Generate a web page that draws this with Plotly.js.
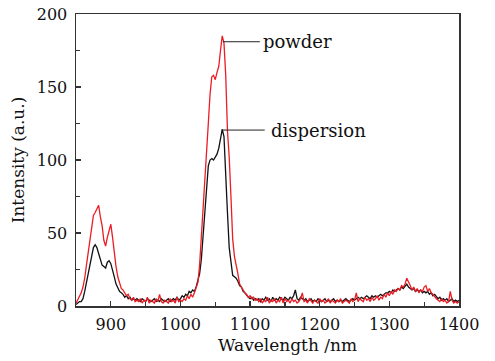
<!DOCTYPE html>
<html>
<head>
<meta charset="utf-8">
<script src="https://cdn.plot.ly/plotly-3.0.1.min.js"></script>
<style>html,body{margin:0;padding:0;background:#fff;}#chart{width:495px;height:361px;}</style>
</head>
<body>
<div id="chart"></div>
<script>
// Wavelength grid (nm), 2.5 nm steps from 850 to 1400
const wavelength = [
850,852.5,855,857.5,860,862.5,865,867.5,870,872.5,875,877.5,880,882.5,885,887.5,890,892.5,895,897.5,
900,902.5,905,907.5,910,912.5,915,917.5,920,922.5,925,927.5,930,932.5,935,937.5,940,942.5,945,947.5,
950,952.5,955,957.5,960,962.5,965,967.5,970,972.5,975,977.5,980,982.5,985,987.5,990,992.5,995,997.5,
1000,1002.5,1005,1007.5,1010,1012.5,1015,1017.5,1020,1022.5,1025,1027.5,1030,1032.5,1035,1037.5,1040,1042.5,1045,1047.5,
1050,1052.5,1055,1057.5,1060,1062.5,1065,1067.5,1070,1072.5,1075,1077.5,1080,1082.5,1085,1087.5,1090,1092.5,1095,1097.5,
1100,1102.5,1105,1107.5,1110,1112.5,1115,1117.5,1120,1122.5,1125,1127.5,1130,1132.5,1135,1137.5,1140,1142.5,1145,1147.5,
1150,1152.5,1155,1157.5,1160,1162.5,1165,1167.5,1170,1172.5,1175,1177.5,1180,1182.5,1185,1187.5,1190,1192.5,1195,1197.5,
1200,1202.5,1205,1207.5,1210,1212.5,1215,1217.5,1220,1222.5,1225,1227.5,1230,1232.5,1235,1237.5,1240,1242.5,1245,1247.5,
1250,1252.5,1255,1257.5,1260,1262.5,1265,1267.5,1270,1272.5,1275,1277.5,1280,1282.5,1285,1287.5,1290,1292.5,1295,1297.5,
1300,1302.5,1305,1307.5,1310,1312.5,1315,1317.5,1320,1322.5,1325,1327.5,1330,1332.5,1335,1337.5,1340,1342.5,1345,1347.5,
1350,1352.5,1355,1357.5,1360,1362.5,1365,1367.5,1370,1372.5,1375,1377.5,1380,1382.5,1385,1387.5,1390,1392.5,1395,1397.5,
1400];

// Intensity of the powder sample (a.u.)
const powder = [
2,4,6,9,13,19,28,37,46,56,62,64,67,69,61,55,45,41,47,52,
56,47,36,27,20,15,12,11,9,7,8,5,4,6,3,4,3,5,2,4,
3,6,2,4,3,2,5,3,8,3,2,4,3,2,5,3,4,2,6,3,
4,3,5,4,7,5,8,6,9,12,16,28,46,68,85,104,125,145,157,158,
155,160,164,175,185,180,158,120,102,75,46,34,29,22,15,13,10,9,8,6,
7,5,6,4,5,3,5,2,4,3,6,2,4,3,5,2,4,3,6,2,
5,3,4,2,5,3,4,2,3,5,9,3,4,2,5,3,2,4,3,2,
5,3,4,2,3,5,2,4,3,2,4,3,5,2,3,4,3,2,5,3,
4,9,3,5,4,3,6,4,5,3,6,4,5,7,4,6,5,8,6,9,
7,10,8,11,10,12,11,14,13,15,19,17,14,11,13,10,12,9,11,10,
13,14,10,12,9,8,6,5,4,3,5,3,4,2,3,10,4,2,3,2,
3];

// Intensity of the dispersion sample (a.u.)
const dispersion = [
1,2,3,3,5,10,16,22,29,36,40,42,40,36,31,28,27,26,30,31,
29,25,20,15,12,10,9,8,6,7,5,6,4,5,4,5,4,3,5,4,
3,5,4,3,4,5,3,4,3,5,4,3,4,5,3,4,5,4,6,4,
5,7,6,8,7,10,9,11,10,13,17,22,32,47,62,75,96,100,101,100,
102,104,108,115,121,116,84,64,40,28,21,20,19,17,14,13,10,9,7,6,
5,6,4,5,4,5,3,5,4,6,4,5,3,6,4,5,4,6,5,4,
6,5,4,6,5,7,11,5,4,6,5,4,5,3,4,5,3,4,3,5,
4,3,4,5,3,4,3,4,5,3,4,3,4,3,4,5,4,3,4,5,
4,5,6,5,6,5,6,7,6,5,7,6,7,6,7,8,7,8,9,9,
10,9,11,10,11,12,11,13,12,14,15,13,12,11,12,10,11,10,11,9,
10,9,10,8,9,7,8,6,5,6,4,5,4,5,3,4,5,3,4,3,
4];

const seriesNames = ["dispersion", "powder"];
const xTitle = "Wavelength /nm";
const yTitle = "Intensity (a.u.)";

const font = "DejaVu Serif";
const axisColor = "#333";

const traces = [
  {x: wavelength, y: dispersion, name: seriesNames[0], type: "scatter", mode: "lines",
   line: {color: "#111111", width: 1.3}},
  {x: wavelength, y: powder, name: seriesNames[1], type: "scatter", mode: "lines",
   line: {color: "#ec1c24", width: 1.3}}
];

const layout = {
  width: 495, height: 361,
  margin: {l: 76, r: 36, t: 14, b: 55},
  paper_bgcolor: "#ffffff", plot_bgcolor: "#ffffff",
  showlegend: false,
  font: {family: font, color: "#111", size: 16},
  xaxis: {
    range: [850, 1400], dtick: 100, tick0: 900,
    ticks: "inside", ticklen: 5, tickwidth: 1.2, tickcolor: axisColor,
    minor: {dtick: 50, ticks: "inside", ticklen: 4, tickwidth: 1.2, tickcolor: axisColor},
    showline: true, linecolor: axisColor, linewidth: 1.5, mirror: true,
    showgrid: false, zeroline: false,
    tickfont: {family: font, size: 16, color: "#111"},
    ticklabelstandoff: 3
  },
  yaxis: {
    range: [0, 200], dtick: 50,
    ticks: "inside", ticklen: 5, tickwidth: 1.2, tickcolor: axisColor,
    minor: {dtick: 25, ticks: "inside", ticklen: 4, tickwidth: 1.2, tickcolor: axisColor},
    showline: true, linecolor: axisColor, linewidth: 1.5, mirror: true,
    showgrid: false, zeroline: false,
    tickfont: {family: font, size: 16, color: "#111"},
    ticklabelstandoff: 4,
    title: {text: yTitle, font: {family: font, size: 17, color: "#111"}, standoff: 8}
  },
  shapes: [
    {type: "line", xref: "x", yref: "y", x0: 1061, x1: 1114, y0: 181, y1: 181,
     line: {color: "#222", width: 1}},
    {type: "line", xref: "x", yref: "y", x0: 1059, x1: 1121, y0: 120.5, y1: 120.5,
     line: {color: "#222", width: 1}}
  ],
  annotations: [
    {text: seriesNames[1], xref: "x", yref: "y", x: 1116, y: 181, xanchor: "left", yanchor: "middle",
     showarrow: false, font: {family: font, size: 18, color: "#111"}},
    {text: seriesNames[0], xref: "x", yref: "y", x: 1127, y: 120.5, xanchor: "left", yanchor: "middle",
     showarrow: false, font: {family: font, size: 18, color: "#111"}},
    {text: xTitle, xref: "paper", yref: "paper", x: 0.553, y: 0, yshift: -27, xanchor: "center", yanchor: "top",
     showarrow: false, font: {family: font, size: 17, color: "#111"}}
  ]
};

Plotly.newPlot("chart", traces, layout, {staticPlot: true, displayModeBar: false});
</script>
</body>
</html>
